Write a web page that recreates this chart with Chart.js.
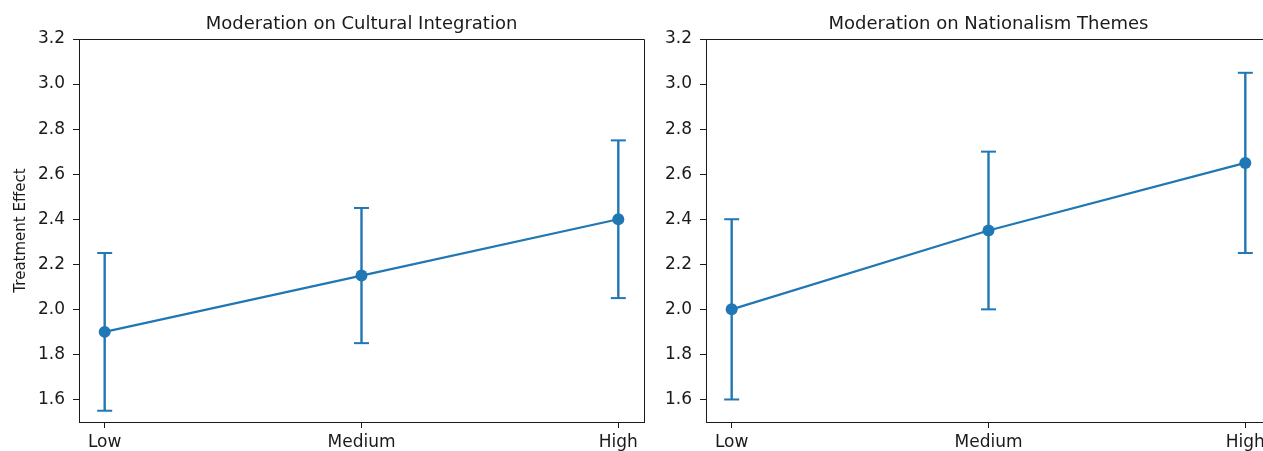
<!DOCTYPE html>
<html>
<head>
<meta charset="utf-8">
<script src="https://cdn.jsdelivr.net/npm/chart.js@4.4.1/dist/chart.umd.min.js"></script>
<style>
  html, body { margin: 0; padding: 0; background: #fff; overflow: hidden; width: 1263px; height: 451px; }
  .panel { position: absolute; top: 0; height: 451px; overflow: hidden; background: #fff; }
  #leftPanel { left: 0; width: 660px; }
  #rightPanel { left: 650px; width: 613px; background: transparent; }
  canvas { position: absolute; top: 0; left: 0; }
</style>
</head>
<body>
<div class="panel" id="leftPanel"><canvas id="culturalChart" width="660" height="451"></canvas></div>
<div class="panel" id="rightPanel"><canvas id="nationalismChart" width="640" height="451"></canvas></div>
<script>
const categories = ['Low', 'Medium', 'High'];
const culturalEffect = [1.9, 2.15, 2.4];
const culturalLower = [1.55, 1.85, 2.05];
const culturalUpper = [2.25, 2.45, 2.75];
const nationalismEffect = [2.0, 2.35, 2.65];
const nationalismLower = [1.6, 2.0, 2.25];
const nationalismUpper = [2.4, 2.7, 3.05];
const yTicks = [1.6, 1.8, 2.0, 2.2, 2.4, 2.6, 2.8, 3.0, 3.2];

const blue = '#1f77b4';
const ink = '#1a1a1a';
const font = 'DejaVu Sans';

// matplotlib draws a box around the axes and centres the title on it
function makeFrame(title, rightSpine) {
  return {
    id: 'frame',
    afterDraw(chart) {
      const { ctx, chartArea: a } = chart;
      const l = Math.round(a.left) + 0.5, r = Math.round(a.right) + 0.5, t = Math.round(a.top) + 0.5;
      ctx.save();
      ctx.strokeStyle = ink;
      ctx.lineWidth = 1;
      ctx.beginPath();
      ctx.moveTo(l, t);
      ctx.lineTo(r, t);
      ctx.stroke();
      if (rightSpine) {
        ctx.beginPath();
        ctx.moveTo(r, t);
        ctx.lineTo(r, Math.round(a.bottom) + 0.5);
        ctx.stroke();
      }
      ctx.fillStyle = ink;
      ctx.font = '18px "DejaVu Sans"';
      ctx.textAlign = 'center';
      ctx.textBaseline = 'alphabetic';
      ctx.fillText(title, (a.left + a.right) / 2, 29);
      ctx.restore();
    },
  };
}

function makeChart(id, title, effect, lower, upper, yLabel, yWidth, padRight, rightSpine) {
  const errorSets = categories.map((c, i) => ({
    data: [{ x: i, y: lower[i] }, { x: i, y: upper[i] }],
    showLine: true,
    borderColor: blue,
    backgroundColor: blue,
    borderWidth: 2.4,
    pointStyle: 'line',
    pointRadius: 7.5,
    pointBorderWidth: 2,
    pointBorderColor: blue,
  }));
  return new Chart(document.getElementById(id), {
    type: 'scatter',
    data: {
      datasets: [
        {
          data: effect.map((v, i) => ({ x: i, y: v })),
          showLine: true,
          borderColor: blue,
          backgroundColor: blue,
          borderWidth: 2.2,
          pointRadius: 6,
          pointBorderWidth: 0,
        },
        ...errorSets,
      ],
    },
    options: {
      responsive: false,
      animation: false,
      layout: { padding: { left: 0, right: padRight, top: 39, bottom: 0 } },
      plugins: {
        legend: { display: false },
        tooltip: { enabled: false },
        title: { display: false },
      },
      scales: {
        x: {
          type: 'linear',
          min: -0.1,
          max: 2.1,
          afterBuildTicks: (scale) => { scale.ticks = categories.map((c, i) => ({ value: i })); },
          afterFit: (scale) => { scale.height = 29; },
          grid: { display: true, drawOnChartArea: false, drawTicks: true, tickLength: 6, color: ink },
          border: { display: true, color: ink, width: 1 },
          ticks: { color: ink, padding: 4, maxRotation: 0, font: { family: font, size: 17 }, callback: (v) => categories[v] },
        },
        y: {
          min: 1.5,
          max: 3.2,
          afterBuildTicks: (scale) => { scale.ticks = yTicks.map((v) => ({ value: v })); },
          afterFit: (scale) => { scale.width = yWidth; },
          grid: { display: true, drawOnChartArea: false, drawTicks: true, tickLength: 6, color: ink },
          border: { display: true, color: ink, width: 1 },
          ticks: { color: ink, padding: 8, font: { family: font, size: 17 }, callback: (v) => v.toFixed(1) },
          title: { display: !!yLabel, text: yLabel, color: ink, font: { family: font, size: 15 }, padding: { top: 12, bottom: 0 } },
        },
      },
    },
    plugins: [makeFrame(title, rightSpine)],
  });
}

makeChart('culturalChart', 'Moderation on Cultural Integration', culturalEffect, culturalLower, culturalUpper, 'Treatment Effect', 79, 16, true);
// the right panel runs past the edge of the figure, so its right spine is cut off
makeChart('nationalismChart', 'Moderation on Nationalism Themes', nationalismEffect, nationalismLower, nationalismUpper, '', 56, 19, false);
</script>
</body>
</html>
